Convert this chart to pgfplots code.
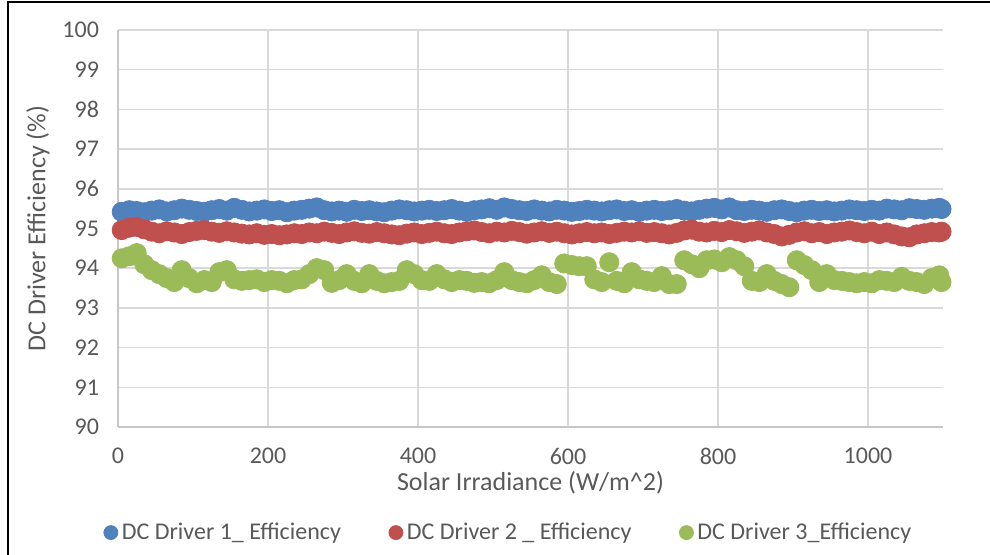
\documentclass[border=0pt]{standalone}
\usepackage{pgfplots}
\pgfplotsset{compat=1.18}
\usepackage{pgfplotstable}
\usepackage{fontspec}
\setmainfont{Carlito}
\definecolor{cblue}{HTML}{4F81BD}
\definecolor{cred}{HTML}{C0504D}
\definecolor{cgreen}{HTML}{9BBB59}
\definecolor{ctext}{HTML}{595959}
\definecolor{cgrid}{HTML}{D9D9D9}
\pgfplotstableread{
x b r g
5 95.42 94.96 94.25
15 95.46 95.02 94.30
25 95.44 95.04 94.38
35 95.41 94.98 94.10
45 95.45 94.92 93.95
55 95.48 94.88 93.85
65 95.43 94.93 93.75
75 95.46 94.90 93.65
85 95.50 94.86 93.95
95 95.47 94.91 93.75
105 95.44 94.94 93.62
115 95.42 94.96 93.70
125 95.46 94.92 93.65
135 95.49 94.89 93.90
145 95.45 94.93 93.95
155 95.52 94.90 93.72
165 95.47 94.87 93.68
175 95.43 94.85 93.70
185 95.45 94.88 93.72
195 95.48 94.84 93.65
205 95.44 94.86 93.70
215 95.46 94.83 93.68
225 95.41 94.85 93.62
235 95.45 94.88 93.70
245 95.47 94.86 93.72
255 95.50 94.90 93.85
265 95.53 94.88 94.00
275 95.46 94.92 93.95
285 95.43 94.89 93.63
295 95.45 94.86 93.70
305 95.42 94.90 93.85
315 95.47 94.93 93.68
325 95.44 94.89 93.62
335 95.46 94.87 93.85
345 95.43 94.91 93.68
355 95.41 94.88 93.62
365 95.45 94.85 93.65
375 95.48 94.83 93.68
385 95.46 94.87 93.95
395 95.43 94.90 93.85
405 95.45 94.86 93.70
415 95.47 94.89 93.68
425 95.44 94.92 93.85
435 95.46 94.88 93.72
445 95.49 94.86 93.65
455 95.45 94.90 93.70
465 95.42 94.93 93.68
475 95.46 94.95 93.63
485 95.48 94.91 93.65
495 95.51 94.88 93.62
505 95.47 94.92 93.70
515 95.53 94.90 93.90
525 95.49 94.94 93.70
535 95.46 94.91 93.65
545 95.44 94.87 93.62
555 95.48 94.90 93.70
565 95.45 94.93 93.82
575 95.43 94.89 93.65
585 95.47 94.92 93.60
595 95.45 94.88 94.12
605 95.42 94.85 94.08
615 95.44 94.88 94.05
625 95.47 94.91 94.05
635 95.45 94.88 93.72
645 95.43 94.90 93.65
655 95.46 94.86 94.15
665 95.48 94.89 93.68
675 95.44 94.92 93.62
685 95.46 94.90 93.90
695 95.42 94.93 93.72
705 95.45 94.89 93.68
715 95.47 94.91 93.65
725 95.44 94.88 93.80
735 95.46 94.85 93.60
745 95.49 94.89 93.60
755 95.45 94.95 94.20
765 95.43 94.97 94.10
775 95.47 94.92 94.00
785 95.50 94.90 94.20
795 95.52 94.94 94.22
805 95.48 94.91 94.15
815 95.53 94.96 94.28
825 95.46 94.93 94.20
835 95.44 94.89 94.05
845 95.47 94.92 93.68
855 95.45 94.95 93.65
865 95.42 94.90 93.85
875 95.46 94.86 93.68
885 95.48 94.80 93.60
895 95.44 94.84 93.52
905 95.41 94.90 94.20
915 95.45 94.93 94.08
925 95.47 94.88 93.95
935 95.44 94.91 93.65
945 95.46 94.86 93.85
955 95.43 94.90 93.70
965 95.45 94.92 93.68
975 95.48 94.95 93.65
985 95.46 94.91 93.62
995 95.44 94.88 93.65
1005 95.47 94.92 93.62
1015 95.45 94.86 93.70
1025 95.50 94.90 93.68
1035 95.48 94.85 93.65
1045 95.46 94.80 93.78
1055 95.51 94.78 93.68
1065 95.49 94.85 93.65
1075 95.47 94.88 93.60
1085 95.50 94.91 93.75
1095 95.52 94.90 93.82
1098 95.49 94.92 93.65
}\data
\begin{document}
\begin{tikzpicture}
\useasboundingbox (0pt,0pt) rectangle (495pt,277.5pt);
\draw[black, line width=1pt] (4pt,0pt) -- (4pt,276.5pt) -- (495pt,276.5pt);
\begin{axis}[
  at={(59pt,64pt)}, anchor=south west,
  scale only axis, width=412.5pt, height=198.5pt,
  xmin=0, xmax=1100, ymin=90, ymax=100,
  xtick={0,200,400,600,800,1000},
  ytick={90,91,...,100},
  grid=major,
  major grid style={cgrid, line width=0.75pt},
  axis x line*=bottom, axis y line*=left,
  axis line style={cgrid!80!gray, line width=0.75pt},
  tick style={draw=none},
  /pgf/number format/assume math mode=true,
  /pgf/number format/1000 sep={},
  ticklabel style={font=\fontsize{12}{14}\selectfont, text=ctext},
  yticklabel style={xshift=-6pt},
  xticklabel style={yshift=-7pt},
  xlabel={Solar Irradiance (W/m\^{}2)},
  ylabel={DC Driver Efficiency (\%)},
  label style={font=\fontsize{13}{15}\selectfont, text=ctext},
  xlabel style={at={(axis description cs:0.5,-0.141)}, anchor=center},
  ylabel style={at={(axis description cs:-0.097,0.5)}, anchor=center},
  legend columns=-1,
  legend style={at={(axis description cs:0.4745,-0.266)}, anchor=center, draw=none,
    font=\fontsize{12}{14}\selectfont, text=ctext,
    /tikz/every even column/.append style={column sep=22pt}},
  legend image post style={mark size=3.5pt},
  legend cell align=left,
  clip=false,
]
\addplot[only marks, mark=*, mark size=4.8pt, color=cblue] table[x=x,y=b]{\data};
\addlegendentry{DC Driver 1\_ Efficiency}
\addplot[only marks, mark=*, mark size=4.8pt, color=cred] table[x=x,y=r]{\data};
\addlegendentry{DC Driver 2 \_ Efficiency}
\addplot[only marks, mark=*, mark size=4.8pt, color=cgreen] table[x=x,y=g]{\data};
\addlegendentry{DC Driver 3\_Efficiency}
\end{axis}
\end{tikzpicture}
\end{document}
